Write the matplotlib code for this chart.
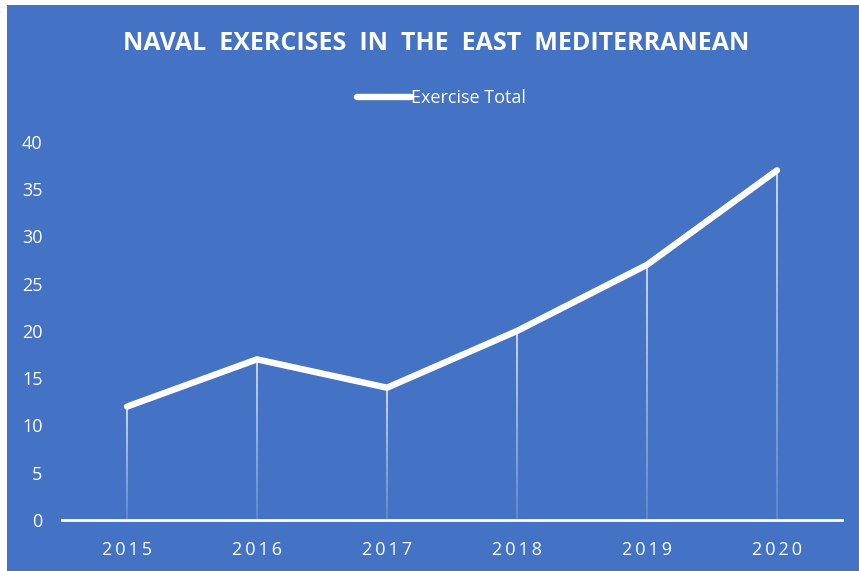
import numpy as np
import matplotlib.pyplot as plt
from matplotlib.patches import Rectangle
from matplotlib.collections import LineCollection

# ---------- Data ----------
years = ['2015', '2016', '2017', '2018', '2019', '2020']
exercise_total = [12, 17, 14, 20, 27, 37]

BG = '#4472C4'
FG = 'white'

plt.rcParams['font.family'] = ['Open Sans', 'DejaVu Sans']

fig = plt.figure(figsize=(8.59, 5.71), dpi=100, facecolor='white')
# blue chart area (small white margin at top/left as in reference)
fig.patches.append(Rectangle((7 / 859, 0), 1, 1 - 5 / 571, transform=fig.transFigure,
                             facecolor=BG, edgecolor='none', zorder=-10))

ax = fig.add_axes([62 / 859, 1 - 520 / 571, 780 / 859, 378 / 571])
ax.set_facecolor('none')

x = np.arange(len(years))
y = np.array(exercise_total, dtype=float)

# drop lines fading towards the axis
n = 40
for xi, yi in zip(x, y):
    ys = np.linspace(0, yi, n + 1)
    segs = [[(xi, ys[k]), (xi, ys[k + 1])] for k in range(n)]
    alphas = np.linspace(0.2, 0.9, n)
    cols = [(1, 1, 1, a) for a in alphas]
    ax.add_collection(LineCollection(segs, colors=cols, linewidths=1.1, zorder=2))

ax.plot(x, y, color=FG, linewidth=4.6, solid_capstyle='round', solid_joinstyle='round',
        zorder=3, label='Exercise Total')

ax.set_xlim(-0.5, len(years) - 0.5)
ax.set_ylim(0, 40)
ax.set_yticks(np.arange(0, 41, 5))
ax.set_xticks(x)
ax.set_xticklabels(['\u2009'.join(list(s)) for s in years])

for side in ['top', 'right', 'left']:
    ax.spines[side].set_visible(False)
ax.spines['bottom'].set_color(FG)
ax.spines['bottom'].set_linewidth(2)
ax.spines['bottom'].set_zorder(4)
ax.tick_params(axis='both', length=0, colors=FG, labelsize=13)
ax.tick_params(axis='x', pad=15)
ax.tick_params(axis='y', pad=14)

fig.text(0.508, 1 - 43 / 571, 'NAVAL  EXERCISES  IN  THE  EAST  MEDITERRANEAN',
         ha='center', va='center', color=FG, fontsize=18, fontweight='bold')

leg = ax.legend(loc='center', bbox_to_anchor=(0.514, (571 - 98) / 571), bbox_transform=fig.transFigure,
                frameon=False, fontsize=13, handlelength=3.0, handletextpad=0.0, labelcolor=FG)

fig.savefig('out.png', dpi=100, facecolor='white')
